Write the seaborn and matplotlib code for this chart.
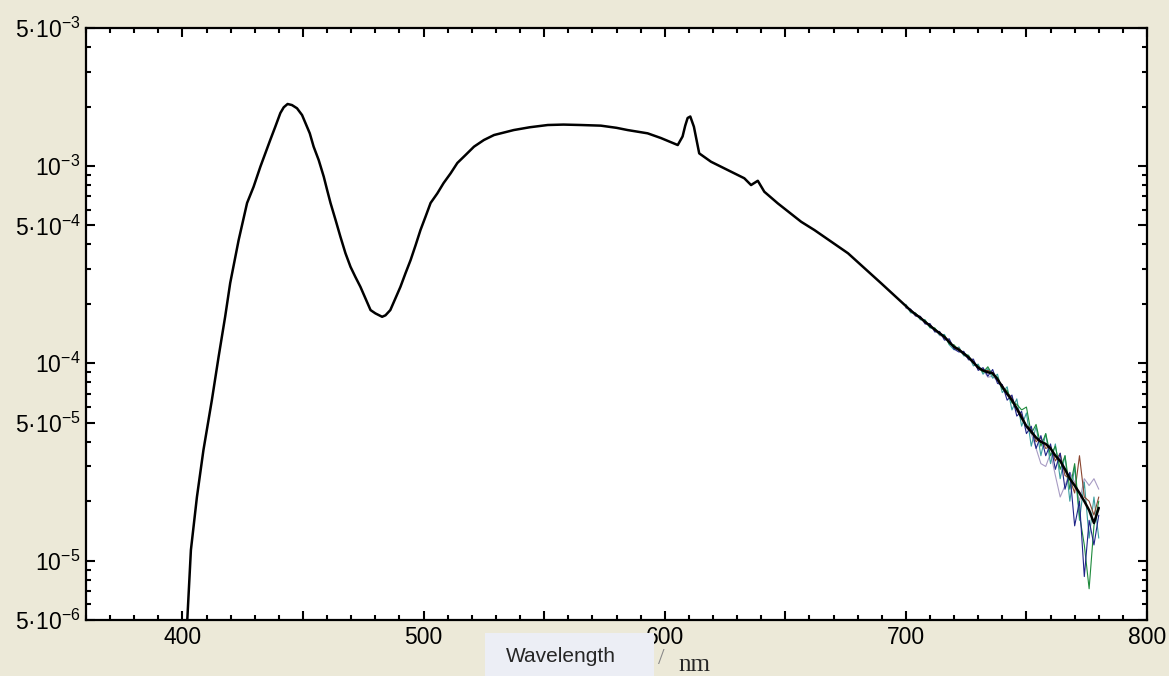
import numpy as np
import pandas as pd
import matplotlib
matplotlib.use('Agg')
import matplotlib.pyplot as plt
import matplotlib.ticker as mticker
from matplotlib.patches import Rectangle
import seaborn as sns

# Mean spectrum (black curve)
nm_main = [400.0, 402.0, 403.5, 406.0, 408.7, 412.2, 415.0, 417.7, 419.8, 423.3,
           426.8, 429.5, 432.3, 436.4, 438.5, 440.6, 442.0, 443.6, 445.4, 447.5,
           449.6, 451.0, 452.8, 454.4, 456.5, 458.6, 460.0, 461.4, 463.5, 465.5,
           467.6, 469.7, 471.7, 473.8, 475.9, 478.0, 480.0, 482.8, 484.2, 486.2,
           488.3, 490.4, 492.5, 494.6, 496.7, 498.7, 500.8, 502.9, 505.7, 508.3,
           511.2, 514.0, 517.4, 520.9, 525.0, 529.2, 537.4, 544.0, 551.5, 558.0,
           565.2, 573.5, 580.0, 584.6, 592.9, 598.4, 605.4, 607.4, 608.5, 609.5,
           610.6, 612.1, 614.3, 619.2, 627.5, 633.0, 635.8, 638.6, 641.3, 646.9,
           656.6, 662.1, 676.0, 689.8,
           700, 702, 704, 706, 708, 710, 712, 714, 716, 718, 720, 722, 724, 726,
           728, 730, 732, 734, 736, 738, 740, 742, 744, 746, 748, 750, 752, 754,
           756, 758, 760, 762, 764, 766, 768, 770, 772, 774, 776, 778, 780]
val_main = [2.5e-6, 5.0e-6, 1.13e-5, 2.1e-5, 3.63e-5, 6.51e-5, 1.08e-4, 1.72e-4, 2.55e-4, 4.21e-4,
            6.49e-4, 7.84e-4, 9.9e-4, 1.353e-3, 1.58e-3, 1.854e-3, 1.982e-3, 2.06e-3, 2.035e-3, 1.96e-3,
            1.811e-3, 1.65e-3, 1.463e-3, 1.252e-3, 1.071e-3, 8.82e-4, 7.55e-4, 6.49e-4, 5.32e-4, 4.38e-4,
            3.61e-4, 3.08e-4, 2.74e-4, 2.44e-4, 2.13e-4, 1.86e-4, 1.79e-4, 1.72e-4, 1.75e-4, 1.86e-4,
            2.13e-4, 2.44e-4, 2.86e-4, 3.33e-4, 3.97e-4, 4.73e-4, 5.53e-4, 6.49e-4, 7.26e-4, 8.19e-4,
            9.17e-4, 1.035e-3, 1.136e-3, 1.252e-3, 1.353e-3, 1.434e-3, 1.52e-3, 1.57e-3, 1.612e-3, 1.62e-3,
            1.612e-3, 1.6e-3, 1.56e-3, 1.52e-3, 1.463e-3, 1.385e-3, 1.276e-3, 1.41e-3, 1.6e-3, 1.75e-3,
            1.78e-3, 1.58e-3, 1.158e-3, 1.05e-3, 9.35e-4, 8.66e-4, 8.0e-4, 8.41e-4, 7.4e-4, 6.46e-4,
            5.21e-4, 4.73e-4, 3.61e-4, 2.54e-4,
            1.95e-4, 1.85e-4, 1.77e-4, 1.70e-4, 1.62e-4, 1.55e-4, 1.48e-4, 1.42e-4, 1.36e-4, 1.28e-4,
            1.21e-4, 1.17e-4, 1.12e-4, 1.07e-4, 1.01e-4, 9.5e-5, 9.2e-5, 9.0e-5, 8.9e-5, 8.3e-5,
            7.6e-5, 7.0e-5, 6.5e-5, 5.9e-5, 5.3e-5, 4.8e-5, 4.5e-5, 4.2e-5, 4.0e-5, 3.9e-5,
            3.7e-5, 3.4e-5, 3.2e-5, 2.9e-5, 2.6e-5, 2.4e-5, 2.2e-5, 2.0e-5, 1.8e-5, 1.55e-5, 1.85e-5]

# Individual noisy runs in the red tail (2 nm steps)
nm_tail = [700, 702, 704, 706, 708, 710, 712, 714, 716, 718, 720, 722, 724, 726,
           728, 730, 732, 734, 736, 738, 740, 742, 744, 746, 748, 750, 752, 754,
           756, 758, 760, 762, 764, 766, 768, 770, 772, 774, 776, 778, 780]
run_teal = [1.99e-4, 1.80e-4, 1.80e-4, 1.66e-4, 1.66e-4, 1.51e-4, 1.50e-4, 1.39e-4, 1.40e-4, 1.24e-4,
            1.17e-4, 1.21e-4, 1.09e-4, 1.10e-4, 0.97e-4, 9.9e-5, 8.8e-5, 9.4e-5, 8.4e-5, 8.8e-5,
            7.1e-5, 7.6e-5, 5.8e-5, 6.6e-5, 4.8e-5, 5.6e-5, 3.8e-5, 4.8e-5, 3.4e-5, 4.4e-5,
            3.1e-5, 3.9e-5, 2.6e-5, 3.4e-5, 2.0e-5, 3.0e-5, 1.6e-5, 2.5e-5, 1.3e-5, 2.1e-5, 1.3e-5]
run_blue = [1.92e-4, 1.88e-4, 1.74e-4, 1.73e-4, 1.58e-4, 1.59e-4, 1.44e-4, 1.45e-4, 1.31e-4, 1.33e-4,
            1.18e-4, 1.14e-4, 1.15e-4, 1.04e-4, 1.05e-4, 9.2e-5, 9.5e-5, 8.6e-5, 9.3e-5, 7.9e-5,
            7.8e-5, 6.5e-5, 6.9e-5, 5.4e-5, 5.7e-5, 4.4e-5, 4.8e-5, 3.7e-5, 4.3e-5, 3.4e-5,
            3.9e-5, 2.9e-5, 3.5e-5, 2.3e-5, 2.8e-5, 1.5e-5, 2.0e-5, 8.3e-6, 1.6e-5, 1.2e-5, 1.7e-5]
run_green = [1.97e-4, 1.83e-4, 1.79e-4, 1.68e-4, 1.65e-4, 1.52e-4, 1.51e-4, 1.40e-4, 1.38e-4, 1.25e-4,
             1.24e-4, 1.16e-4, 1.13e-4, 1.09e-4, 1.00e-4, 9.7e-5, 9.0e-5, 9.6e-5, 8.7e-5, 8.5e-5,
             7.4e-5, 7.3e-5, 6.3e-5, 6.2e-5, 5.8e-5, 6.0e-5, 4.4e-5, 4.9e-5, 3.8e-5, 4.4e-5,
             3.4e-5, 3.8e-5, 2.9e-5, 3.4e-5, 2.3e-5, 3.1e-5, 1.7e-5, 1.2e-5, 7.2e-6, 1.5e-5, 2.0e-5]
run_brown = [1.94e-4, 1.86e-4, 1.78e-4, 1.71e-4, 1.60e-4, 1.57e-4, 1.47e-4, 1.43e-4, 1.34e-4, 1.30e-4,
             1.20e-4, 1.19e-4, 1.11e-4, 1.08e-4, 1.02e-4, 9.4e-5, 9.1e-5, 9.2e-5, 9.0e-5, 8.2e-5,
             7.7e-5, 7.1e-5, 6.7e-5, 5.9e-5, 5.5e-5, 4.8e-5, 4.7e-5, 4.0e-5, 4.2e-5, 3.7e-5,
             3.8e-5, 3.2e-5, 3.5e-5, 2.7e-5, 2.6e-5, 2.2e-5, 3.4e-5, 2.1e-5, 2.0e-5, 1.7e-5, 2.1e-5]
run_lilac = [1.90e-4, 1.87e-4, 1.73e-4, 1.72e-4, 1.61e-4, 1.54e-4, 1.49e-4, 1.38e-4, 1.37e-4, 1.26e-4,
             1.19e-4, 1.18e-4, 1.10e-4, 1.06e-4, 1.03e-4, 9.3e-5, 9.3e-5, 8.5e-5, 8.6e-5, 8.1e-5,
             7.5e-5, 6.9e-5, 6.6e-5, 5.7e-5, 5.5e-5, 4.7e-5, 4.4e-5, 3.7e-5, 3.1e-5, 3.0e-5,
             3.5e-5, 2.7e-5, 2.1e-5, 2.4e-5, 2.8e-5, 2.5e-5, 2.0e-5, 2.6e-5, 2.4e-5, 2.6e-5, 2.3e-5]
run_names = ['lilac', 'teal', 'brown', 'green', 'blue']
run_values = [run_lilac, run_teal, run_brown, run_green, run_blue]
run_colors = ['#a89cc4', '#3a9e9e', '#8a4630', '#1e8a3c', '#1f2488']

y_ticks = [5e-3, 1e-3, 5e-4, 1e-4, 5e-5, 1e-5, 5e-6]
y_labels = [r'$\mathrm{5·10^{-3}}$', r'$\mathrm{10^{-3}}$', r'$\mathrm{5·10^{-4}}$',
            r'$\mathrm{10^{-4}}$', r'$\mathrm{5·10^{-5}}$', r'$\mathrm{10^{-5}}$',
            r'$\mathrm{5·10^{-6}}$']

tail = pd.DataFrame({
    'nm': nm_tail * len(run_names),
    'value': sum(run_values, []),
    'run': [r for r in run_names for _ in nm_tail],
})

sns.set_style('ticks')
plt.rcParams['font.family'] = ['Liberation Sans', 'DejaVu Sans']
plt.rcParams['mathtext.fontset'] = 'custom'
plt.rcParams['mathtext.rm'] = 'Liberation Sans'

bg = '#ece9d8'
fig = plt.figure(figsize=(11.69, 6.76), dpi=100, facecolor=bg)
ax = fig.add_axes([86 / 1169, 56 / 676, (1147 - 86) / 1169, (620 - 28) / 676])
ax.set_facecolor('white')

sns.lineplot(data=tail, x='nm', y='value', hue='run', palette=run_colors,
             estimator=None, lw=0.8, legend=False, ax=ax)
sns.lineplot(x=nm_main, y=val_main, color='black', lw=1.8, estimator=None, ax=ax)

ax.set_yscale('log')
ax.set_xlim(360, 800)
ax.set_ylim(5e-6, 5e-3)

ax.yaxis.set_major_locator(mticker.FixedLocator(y_ticks))
ax.yaxis.set_major_formatter(mticker.FixedFormatter(y_labels))
ax.yaxis.set_minor_locator(mticker.LogLocator(base=10, subs=[2, 3, 4, 6, 7, 8, 9]))
ax.yaxis.set_minor_formatter(mticker.NullFormatter())

ax.xaxis.set_major_locator(mticker.MultipleLocator(50))
ax.xaxis.set_major_formatter(mticker.FuncFormatter(lambda v, p: f'{v:.0f}' if v % 100 == 0 else ''))
ax.xaxis.set_minor_locator(mticker.MultipleLocator(10))

ax.tick_params(which='both', direction='in', top=True, right=True, width=1.5, colors='black')
ax.tick_params(which='major', length=6.5, labelsize=16.5, pad=4)
ax.tick_params(which='minor', length=3.8)
for s in ax.spines.values():
    s.set_linewidth(1.6)
    s.set_color('black')

ax.set_xlabel('')
ax.set_ylabel('')

# axis title box
fig.patches.append(Rectangle((485 / 1169, 0), (654 - 485) / 1169, (676 - 633) / 676,
                             transform=fig.transFigure, facecolor='#eceef5',
                             edgecolor='none', zorder=5))
fig.text(561 / 1169, (676 - 657) / 676, 'Wavelength', fontsize=15, ha='center',
         va='center', zorder=6)
fig.text(661 / 1169, (676 - 659) / 676, '/', fontsize=17, ha='center', va='center',
         color='#888888', family='Liberation Serif', zorder=6)
fig.text(678 / 1169, (676 - 665) / 676, 'nm', fontsize=18, ha='left', va='center',
         family='Liberation Serif', zorder=6)

fig.savefig('out.png', dpi=100, facecolor=bg)
